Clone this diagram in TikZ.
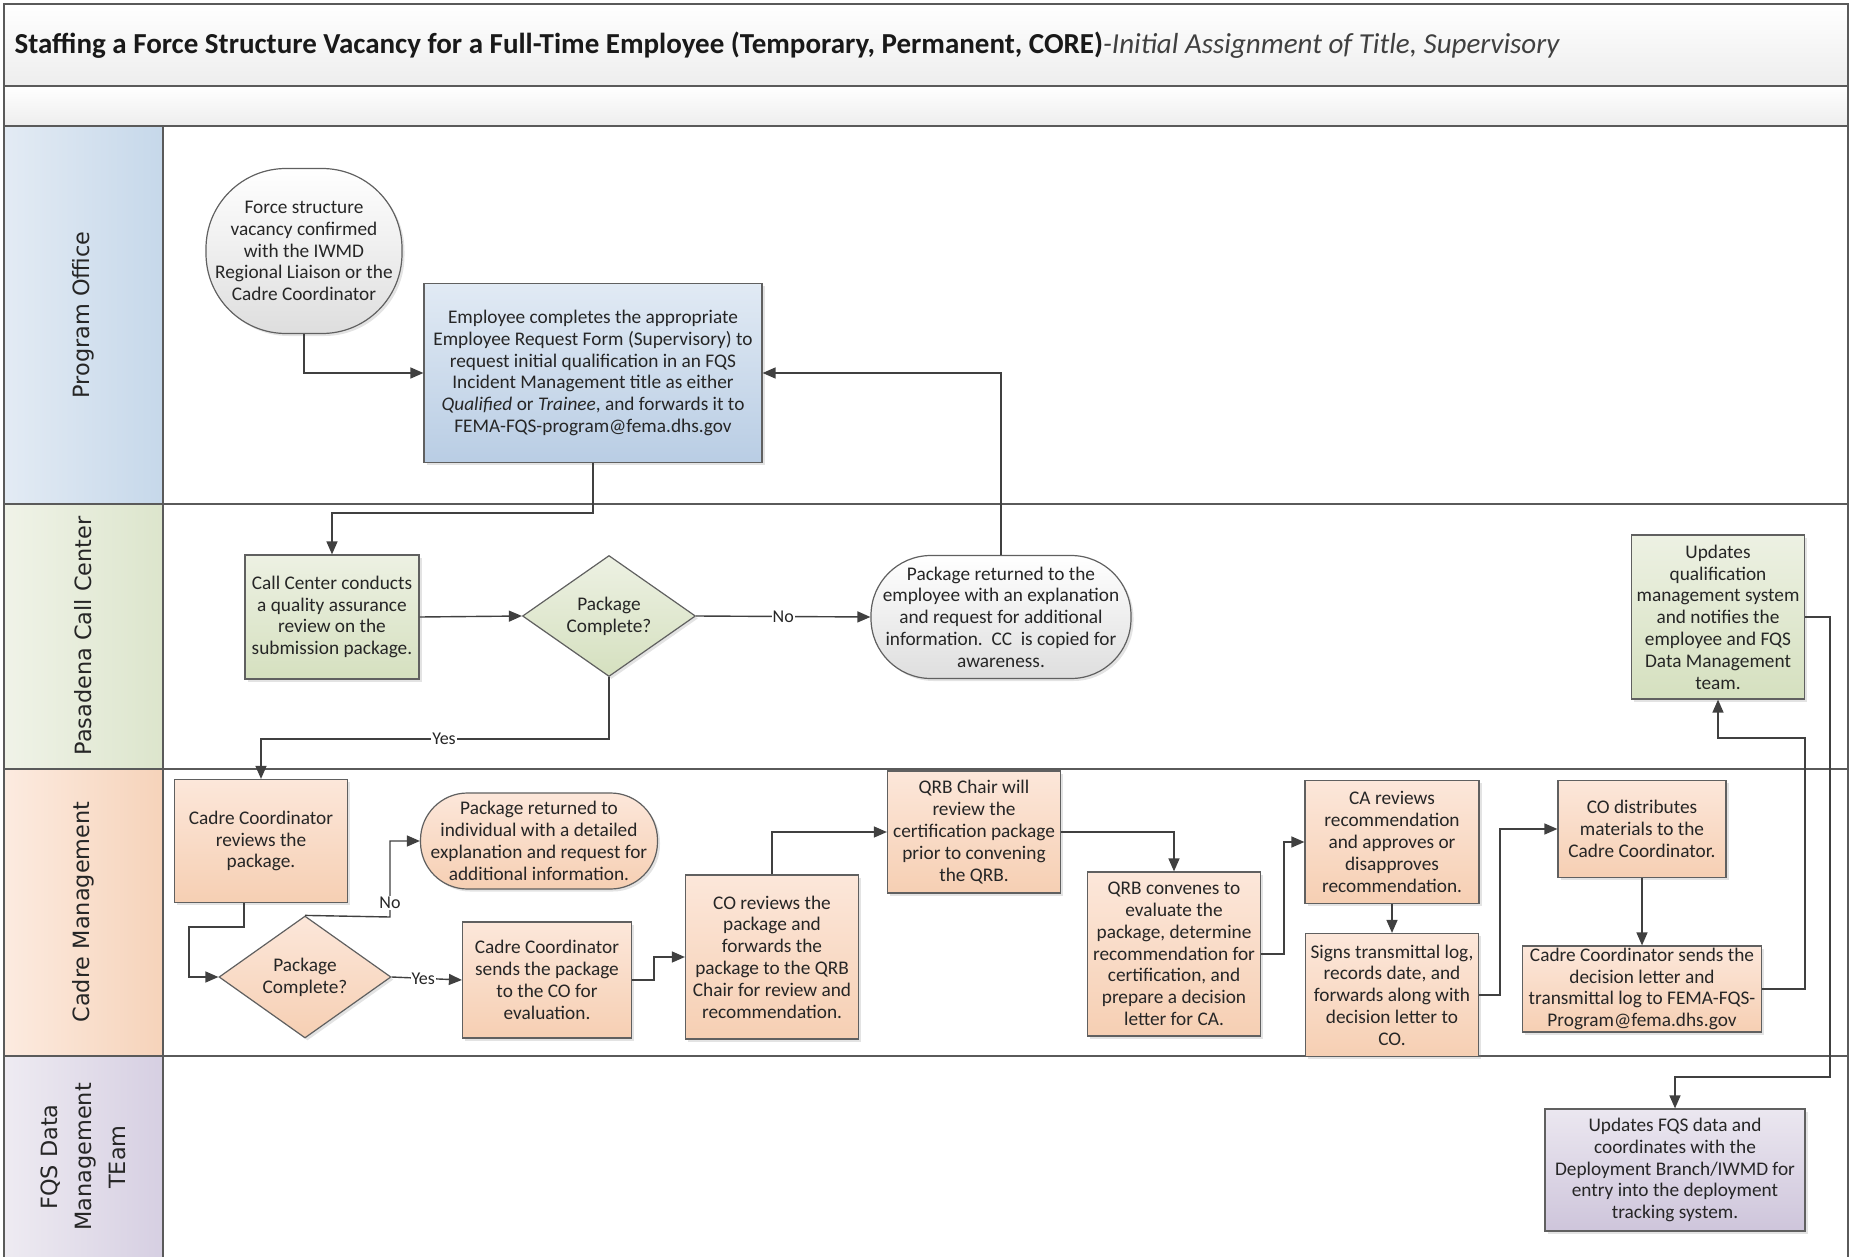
\documentclass[tikz,border=0pt]{standalone}
\usepackage{fontspec}
\setmainfont{Carlito}
\newfontfamily\lanefont{DejaVu Sans}
\usetikzlibrary{shapes.geometric,arrows.meta,shadows}
\definecolor{lineC}{HTML}{404040}
\definecolor{frameC}{HTML}{5A5A5A}
\definecolor{boxC}{HTML}{606060}
\definecolor{txtC}{HTML}{262626}
\definecolor{blueT}{HTML}{E1EAF4}
\definecolor{blueB}{HTML}{B9CDE4}
\definecolor{greenT}{HTML}{EDF1E3}
\definecolor{greenB}{HTML}{D5E0BF}
\definecolor{peachT}{HTML}{FCE7DA}
\definecolor{peachB}{HTML}{F6CFB3}
\definecolor{purpT}{HTML}{EBE7F0}
\definecolor{purpB}{HTML}{CEC5DB}
\definecolor{grayT}{HTML}{FFFFFF}
\definecolor{grayB}{HTML}{DEDEDE}
\definecolor{hBlueL}{HTML}{E3EBF4}
\definecolor{hBlueR}{HTML}{C6D8EA}
\definecolor{hGreenL}{HTML}{F0F3E8}
\definecolor{hGreenR}{HTML}{DCE5CC}
\definecolor{hPeachL}{HTML}{FCEBE0}
\definecolor{hPeachR}{HTML}{F6D3BA}
\definecolor{hPurpL}{HTML}{EEEBF2}
\definecolor{hPurpR}{HTML}{D6CFE2}
\begin{document}
\begin{tikzpicture}[x=1pt,y=-1pt,
  box/.style={draw=boxC, line width=1.2pt, inner sep=0pt, align=center,
    font=\fontsize{19.3}{21.8}\selectfont, text=txtC,
    drop shadow={shadow xshift=2.5pt,shadow yshift=-2.5pt,opacity=0.22}},
  bluebox/.style={box, top color=blueT, bottom color=blueB},
  greenbox/.style={box, top color=greenT, bottom color=greenB},
  peachbox/.style={box, top color=peachT, bottom color=peachB},
  purpbox/.style={box, top color=purpT, bottom color=purpB},
  termbox/.style={box, top color=grayT, bottom color=grayB},
  decision/.style={box, diamond, aspect=1.43},
  arr/.style={draw=lineC, line width=1.4pt, -{Triangle[length=13pt,width=11pt]}},
  lbl/.style={fill=white, inner sep=1pt, font=\fontsize{18}{20}\selectfont, text=txtC},
  lane/.style={draw=frameC, line width=2pt},
  lanelabel/.style={rotate=90, align=center, text=txtC, font=\lanefont\fontsize{22.4}{34}\selectfont}
]
\useasboundingbox (0,0) rectangle (1850,1257);
% header bars
\path[top color=white, bottom color=black!7] (4,4) rectangle (1848,86);
\path[top color=white, bottom color=black!7] (4,86) rectangle (1848,126);
% lane headers
\path[left color=hBlueL, right color=hBlueR] (4,126) rectangle (163,504);
\path[left color=hGreenL, right color=hGreenR] (4,504) rectangle (163,769);
\path[left color=hPeachL, right color=hPeachR] (4,769) rectangle (163,1056);
\path[left color=hPurpL, right color=hPurpR] (4,1056) rectangle (163,1262);
% frame lines
\draw[lane] (4,1262) -- (4,4) -- (1848,4) -- (1848,1262);
\draw[lane] (4,86) -- (1848,86);
\draw[lane] (4,126) -- (1848,126);
\draw[lane] (4,504) -- (1848,504);
\draw[lane] (4,769) -- (1848,769);
\draw[lane] (4,1056) -- (1848,1056);
\draw[lane] (163,126) -- (163,1262);
% title
\node[anchor=west, text=black!90, font=\fontsize{29}{33}\selectfont] (title) at (11,45)
  {\textbf{Staffing a Force Structure Vacancy for a Full-Time Employee (Temporary, Permanent, CORE)}\textit{\color{black!75}-Initial Assignment of Title, Supervisory}};
% lane labels
\node[lanelabel] (l1) at (83,315) {Program Office};
\node[lanelabel] (l2) at (83,636) {Pasadena Call Center};
\node[lanelabel] (l3) at (83,912) {Cadre Management};
\node[lanelabel] (l4) at (83,1157) {FQS Data\\Management\\TEam};
% nodes - Program Office
\node[termbox, rounded corners=80pt, minimum width=196pt, minimum height=165pt] (start) at (304,251)
  {Force structure\\vacancy confirmed\\with the IWMD\\Regional Liaison or the\\Cadre Coordinator};
\node[bluebox, minimum width=338pt, minimum height=179pt] (emp) at (593,373)
  {Employee completes the appropriate\\Employee Request Form (Supervisory) to\\request initial qualification in an FQS\\Incident Management title as either\\\textit{Qualified} or \textit{Trainee}, and forwards it to\\FEMA-FQS-program@fema.dhs.gov};
% Pasadena Call Center
\node[greenbox, minimum width=174pt, minimum height=124pt] (cc) at (332,617)
  {Call Center conducts\\a quality assurance\\review on the\\submission package.};
\node[decision, top color=greenT, bottom color=greenB, minimum width=173pt, minimum height=121pt] (d1) at (609,616)
  {Package\\Complete?};
\node[termbox, rounded corners=60pt, minimum width=260pt, minimum height=123pt] (ret1) at (1001,617)
  {Package returned to the\\employee with an explanation\\and request for additional\\information.\ \ CC\ \ is copied for\\awareness.};
\node[greenbox, minimum width=173pt, minimum height=164pt] (upd) at (1718,617)
  {Updates\\qualification\\management system\\and notifies the\\employee and FQS\\Data Management\\team.};
% Cadre Management
\node[peachbox, minimum width=173pt, minimum height=123pt] (ccrev) at (261,841)
  {Cadre Coordinator\\reviews the\\package.};
\node[peachbox, rounded corners=47pt, minimum width=237pt, minimum height=96pt] (ret2) at (539,841)
  {Package returned to\\individual with a detailed\\explanation and request for\\additional information.};
\node[decision, top color=peachT, bottom color=peachB, minimum width=172pt, minimum height=122pt] (d2) at (305,977)
  {Package\\Complete?};
\node[peachbox, minimum width=169pt, minimum height=116pt] (ccsend) at (547,980)
  {Cadre Coordinator\\sends the package\\to the CO for\\evaluation.};
\node[peachbox, minimum width=173pt, minimum height=164pt] (corev) at (772,957)
  {CO reviews the\\package and\\forwards the\\package to the QRB\\Chair for review and\\recommendation.};
\node[peachbox, minimum width=173pt, minimum height=122pt] (qrbchair) at (974,832)
  {QRB Chair will\\review the\\certification package\\prior to convening\\the QRB.};
\node[peachbox, minimum width=173pt, minimum height=164pt] (qrbconv) at (1174,954)
  {QRB convenes to\\evaluate the\\package, determine\\recommendation for\\certification, and\\prepare a decision\\letter for CA.};
\node[peachbox, minimum width=174pt, minimum height=123pt] (carev) at (1392,842)
  {CA reviews\\recommendation\\and approves or\\disapproves\\recommendation.};
\node[peachbox, minimum width=173pt, minimum height=123pt] (signs) at (1392,995)
  {Signs transmittal log,\\records date, and\\forwards along with\\decision letter to\\CO.};
\node[peachbox, minimum width=168pt, minimum height=97pt] (codist) at (1642,829)
  {CO distributes\\materials to the\\Cadre Coordinator.};
\node[peachbox, minimum width=239pt, minimum height=86pt] (ccdec) at (1642,989)
  {Cadre Coordinator sends the\\decision letter and\\transmittal log to FEMA-FQS-\\Program@fema.dhs.gov};
% FQS Data Management Team
\node[purpbox, minimum width=260pt, minimum height=122pt] (fqs) at (1675,1170)
  {Updates FQS data and\\coordinates with the\\Deployment Branch/IWMD for\\entry into the deployment\\tracking system.};
% connectors
\draw[arr] (start.south) |- (emp.west);
\draw[arr] (emp.south) -- ++(0,50) -| (cc.north);
\draw[arr] (cc.east) -- (d1.west);
\draw[arr] (d1.east) -- node[lbl] (no1) {No} (ret1.west);
\draw[arr] (ret1.north) |- (emp.east);
\draw[arr] (d1.south) |- (261,739) -- (ccrev.north);
\node[lbl] (yes1) at (444,739) {Yes};
\draw[arr] ([xshift=-17pt]ccrev.south) |- (189,927) |- (d2.west);
\draw[arr] (d2.north) -- (390,917) |- (ret2.west);
\node[lbl] (no2) at (390,903) {No};
\draw[arr] (d2.east) -- node[lbl, pos=0.45] (yes2) {Yes} (ccsend.west);
\draw[arr] (ccsend.east) -- ++(22,0) |- (corev.west);
\draw[arr] (corev.north) |- (qrbchair.west);
\draw[arr] (qrbchair.east) -| (qrbconv.north);
\draw[arr] (qrbconv.east) -- ++(23,0) |- (carev.west);
\draw[arr] (carev.south) -- (signs.north);
\draw[arr] (signs.east) -- ++(21,0) |- (codist.west);
\draw[arr] (codist.south) -- (ccdec.north);
\draw[arr] (ccdec.east) -| (1805,738) -| (upd.south);
\draw[arr] (upd.east) -| (1830,1077) -| (fqs.north);
\end{tikzpicture}
\end{document}
